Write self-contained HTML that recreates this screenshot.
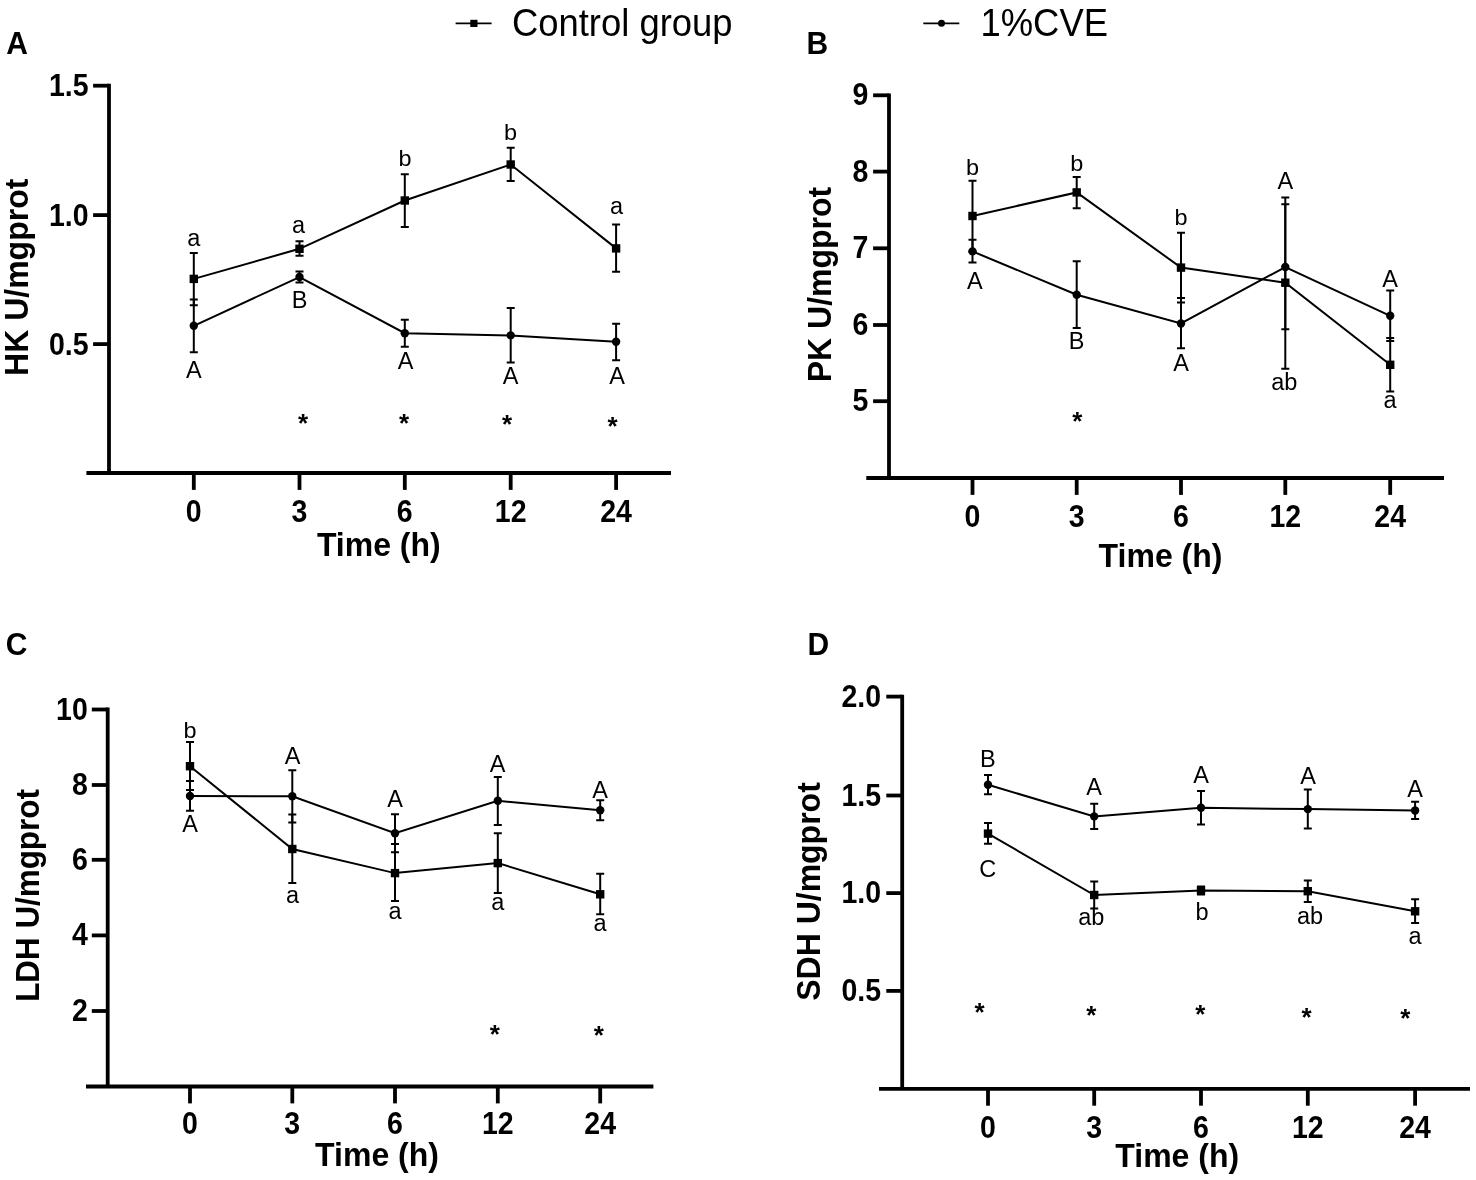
<!DOCTYPE html>
<html><head><meta charset="utf-8"><title>Chart</title><style>
html,body{margin:0;padding:0;background:#fff;}
svg{display:block;will-change:transform;}
text{font-family:"Liberation Sans",sans-serif;fill:#000;}
.tk{font-size:28.5px;font-weight:bold;}
.ax{font-size:32px;font-weight:bold;}
.pl{font-size:30px;font-weight:bold;}
.lb{font-size:23.5px;}
.as{font-size:26px;font-weight:bold;}
.lg{font-size:36.4px;}
</style></head><body>
<svg width="1476" height="1180" viewBox="0 0 1476 1180">
<rect width="1476" height="1180" fill="#fff"/>
<line x1="109" y1="83.8" x2="109" y2="473" stroke="#000" stroke-width="3.8"/>
<line x1="86.4" y1="473" x2="671" y2="473" stroke="#000" stroke-width="3.8"/>
<line x1="93.1" y1="85.7" x2="109" y2="85.7" stroke="#000" stroke-width="3.8"/>
<text transform="translate(88.5,96.10000000000001) scale(1,1.08)" class="tk" text-anchor="end">1.5</text>
<line x1="93.1" y1="215.1" x2="109" y2="215.1" stroke="#000" stroke-width="3.8"/>
<text transform="translate(88.5,225.5) scale(1,1.08)" class="tk" text-anchor="end">1.0</text>
<line x1="93.1" y1="344.1" x2="109" y2="344.1" stroke="#000" stroke-width="3.8"/>
<text transform="translate(88.5,354.5) scale(1,1.08)" class="tk" text-anchor="end">0.5</text>
<line x1="193.8" y1="473" x2="193.8" y2="489.9" stroke="#000" stroke-width="3.8"/>
<text transform="translate(193.8,522) scale(1,1.08)" class="tk" text-anchor="middle">0</text>
<line x1="299.5" y1="473" x2="299.5" y2="489.9" stroke="#000" stroke-width="3.8"/>
<text transform="translate(299.5,522) scale(1,1.08)" class="tk" text-anchor="middle">3</text>
<line x1="404.8" y1="473" x2="404.8" y2="489.9" stroke="#000" stroke-width="3.8"/>
<text transform="translate(404.8,522) scale(1,1.08)" class="tk" text-anchor="middle">6</text>
<line x1="510.7" y1="473" x2="510.7" y2="489.9" stroke="#000" stroke-width="3.8"/>
<text transform="translate(510.7,522) scale(1,1.08)" class="tk" text-anchor="middle">12</text>
<line x1="616.1" y1="473" x2="616.1" y2="489.9" stroke="#000" stroke-width="3.8"/>
<text transform="translate(616.1,522) scale(1,1.08)" class="tk" text-anchor="middle">24</text>
<text transform="translate(378.8,556) scale(1,1.03)" class="ax" text-anchor="middle">Time (h)</text>
<text transform="translate(28,277.3) rotate(-90) scale(1,1.03)" class="ax" text-anchor="middle" style="font-size:32px">HK U/mgprot</text>
<text transform="translate(6.3,53.5) scale(1,1.05)" class="pl">A</text>
<path d="M193.8 253.1V278.9M189.8 253.1H197.8" stroke="#000" stroke-width="2.0" fill="none"/>
<path d="M193.8 278.9V305.2M189.8 305.2H197.8" stroke="#000" stroke-width="2.0" fill="none"/>
<path d="M299.5 241.2V248.8M295.5 241.2H303.5" stroke="#000" stroke-width="2.0" fill="none"/>
<path d="M299.5 248.8V255.7M295.5 255.7H303.5" stroke="#000" stroke-width="2.0" fill="none"/>
<path d="M404.8 174.2V200.5M400.8 174.2H408.8" stroke="#000" stroke-width="2.0" fill="none"/>
<path d="M404.8 200.5V226.9M400.8 226.9H408.8" stroke="#000" stroke-width="2.0" fill="none"/>
<path d="M510.7 147.8V164.5M506.7 147.8H514.7" stroke="#000" stroke-width="2.0" fill="none"/>
<path d="M510.7 164.5V181.0M506.7 181.0H514.7" stroke="#000" stroke-width="2.0" fill="none"/>
<path d="M616.1 224.6V248.4M612.1 224.6H620.1" stroke="#000" stroke-width="2.0" fill="none"/>
<path d="M616.1 248.4V271.8M612.1 271.8H620.1" stroke="#000" stroke-width="2.0" fill="none"/>
<path d="M193.8 278.9 L299.5 248.8 L404.8 200.5 L510.7 164.5 L616.1 248.4" stroke="#000" stroke-width="2.0" fill="none" stroke-linejoin="miter"/>
<rect x="189.60000000000002" y="274.7" width="8.4" height="8.4" fill="#000"/>
<rect x="295.3" y="244.60000000000002" width="8.4" height="8.4" fill="#000"/>
<rect x="400.6" y="196.3" width="8.4" height="8.4" fill="#000"/>
<rect x="506.5" y="160.3" width="8.4" height="8.4" fill="#000"/>
<rect x="611.9" y="244.20000000000002" width="8.4" height="8.4" fill="#000"/>
<path d="M193.8 299.6V325.8M189.8 299.6H197.8" stroke="#000" stroke-width="2.0" fill="none"/>
<path d="M193.8 325.8V352.2M189.8 352.2H197.8" stroke="#000" stroke-width="2.0" fill="none"/>
<path d="M299.5 271.4V277.0M295.5 271.4H303.5" stroke="#000" stroke-width="2.0" fill="none"/>
<path d="M299.5 277.0V282.4M295.5 282.4H303.5" stroke="#000" stroke-width="2.0" fill="none"/>
<path d="M404.8 319.8V333.2M400.8 319.8H408.8" stroke="#000" stroke-width="2.0" fill="none"/>
<path d="M404.8 333.2V346.8M400.8 346.8H408.8" stroke="#000" stroke-width="2.0" fill="none"/>
<path d="M510.7 308.0V335.4M506.7 308.0H514.7" stroke="#000" stroke-width="2.0" fill="none"/>
<path d="M510.7 335.4V362.4M506.7 362.4H514.7" stroke="#000" stroke-width="2.0" fill="none"/>
<path d="M616.1 323.7V341.7M612.1 323.7H620.1" stroke="#000" stroke-width="2.0" fill="none"/>
<path d="M616.1 341.7V360.2M612.1 360.2H620.1" stroke="#000" stroke-width="2.0" fill="none"/>
<path d="M193.8 325.8 L299.5 277.0 L404.8 333.2 L510.7 335.4 L616.1 341.7" stroke="#000" stroke-width="2.0" fill="none" stroke-linejoin="miter"/>
<circle cx="193.8" cy="325.8" r="4.2" fill="#000"/>
<circle cx="299.5" cy="277.0" r="4.2" fill="#000"/>
<circle cx="404.8" cy="333.2" r="4.2" fill="#000"/>
<circle cx="510.7" cy="335.4" r="4.2" fill="#000"/>
<circle cx="616.1" cy="341.7" r="4.2" fill="#000"/>
<text x="193.8" y="245.5" class="lb" text-anchor="middle">a</text>
<text x="193.8" y="378" class="lb" text-anchor="middle">A</text>
<text x="298.6" y="232.5" class="lb" text-anchor="middle">a</text>
<text x="299.5" y="308.2" class="lb" text-anchor="middle">B</text>
<text transform="translate(405,165.8) scale(1,0.93)" class="lb" text-anchor="middle">b</text>
<text x="405.6" y="369" class="lb" text-anchor="middle">A</text>
<text transform="translate(510.5,140.3) scale(1,0.93)" class="lb" text-anchor="middle">b</text>
<text x="510.7" y="384.3" class="lb" text-anchor="middle">A</text>
<text x="616.5" y="213.5" class="lb" text-anchor="middle">a</text>
<text x="617" y="383.6" class="lb" text-anchor="middle">A</text>
<text x="303" y="431.9" class="as" text-anchor="middle">*</text>
<text x="404" y="431.9" class="as" text-anchor="middle">*</text>
<text x="507" y="432.79999999999995" class="as" text-anchor="middle">*</text>
<text x="612.5" y="434.5" class="as" text-anchor="middle">*</text>
<line x1="889" y1="93.39999999999999" x2="889" y2="478" stroke="#000" stroke-width="3.8"/>
<line x1="866.3" y1="478" x2="1444" y2="478" stroke="#000" stroke-width="3.8"/>
<line x1="873.1" y1="95.3" x2="889" y2="95.3" stroke="#000" stroke-width="3.8"/>
<text transform="translate(868.3,105.3) scale(1,1.08)" class="tk" text-anchor="end">9</text>
<line x1="873.1" y1="171.6" x2="889" y2="171.6" stroke="#000" stroke-width="3.8"/>
<text transform="translate(868.3,181.6) scale(1,1.08)" class="tk" text-anchor="end">8</text>
<line x1="873.1" y1="248.3" x2="889" y2="248.3" stroke="#000" stroke-width="3.8"/>
<text transform="translate(868.3,258.3) scale(1,1.08)" class="tk" text-anchor="end">7</text>
<line x1="873.1" y1="325" x2="889" y2="325" stroke="#000" stroke-width="3.8"/>
<text transform="translate(868.3,335) scale(1,1.08)" class="tk" text-anchor="end">6</text>
<line x1="873.1" y1="401.2" x2="889" y2="401.2" stroke="#000" stroke-width="3.8"/>
<text transform="translate(868.3,411.2) scale(1,1.08)" class="tk" text-anchor="end">5</text>
<line x1="972.5" y1="478" x2="972.5" y2="494.9" stroke="#000" stroke-width="3.8"/>
<text transform="translate(972.5,527) scale(1,1.08)" class="tk" text-anchor="middle">0</text>
<line x1="1076.7" y1="478" x2="1076.7" y2="494.9" stroke="#000" stroke-width="3.8"/>
<text transform="translate(1076.7,527) scale(1,1.08)" class="tk" text-anchor="middle">3</text>
<line x1="1181" y1="478" x2="1181" y2="494.9" stroke="#000" stroke-width="3.8"/>
<text transform="translate(1181,527) scale(1,1.08)" class="tk" text-anchor="middle">6</text>
<line x1="1285.3" y1="478" x2="1285.3" y2="494.9" stroke="#000" stroke-width="3.8"/>
<text transform="translate(1285.3,527) scale(1,1.08)" class="tk" text-anchor="middle">12</text>
<line x1="1390.2" y1="478" x2="1390.2" y2="494.9" stroke="#000" stroke-width="3.8"/>
<text transform="translate(1390.2,527) scale(1,1.08)" class="tk" text-anchor="middle">24</text>
<text transform="translate(1160.5,566.5) scale(1,1.03)" class="ax" text-anchor="middle">Time (h)</text>
<text transform="translate(831,284.5) rotate(-90) scale(1,1.03)" class="ax" text-anchor="middle" style="font-size:32px">PK U/mgprot</text>
<text transform="translate(806.5,53.5) scale(1,1.05)" class="pl">B</text>
<path d="M972.5 180.8V216.0M968.5 180.8H976.5" stroke="#000" stroke-width="2.0" fill="none"/>
<path d="M972.5 216.0V251.4M968.5 251.4H976.5" stroke="#000" stroke-width="2.0" fill="none"/>
<path d="M1076.7 177.0V192.4M1072.7 177.0H1080.7" stroke="#000" stroke-width="2.0" fill="none"/>
<path d="M1076.7 192.4V208.3M1072.7 208.3H1080.7" stroke="#000" stroke-width="2.0" fill="none"/>
<path d="M1181 232.8V267.6M1177.0 232.8H1185.0" stroke="#000" stroke-width="2.0" fill="none"/>
<path d="M1181 267.6V302.6M1177.0 302.6H1185.0" stroke="#000" stroke-width="2.0" fill="none"/>
<path d="M1285.3 197.5V282.7M1281.3 197.5H1289.3" stroke="#000" stroke-width="2.0" fill="none"/>
<path d="M1285.3 282.7V368.7M1281.3 368.7H1289.3" stroke="#000" stroke-width="2.0" fill="none"/>
<path d="M1390.2 338.1V364.8M1386.2 338.1H1394.2" stroke="#000" stroke-width="2.0" fill="none"/>
<path d="M1390.2 364.8V391.5M1386.2 391.5H1394.2" stroke="#000" stroke-width="2.0" fill="none"/>
<path d="M972.5 216.0 L1076.7 192.4 L1181 267.6 L1285.3 282.7 L1390.2 364.8" stroke="#000" stroke-width="2.0" fill="none" stroke-linejoin="miter"/>
<rect x="968.3" y="211.8" width="8.4" height="8.4" fill="#000"/>
<rect x="1072.5" y="188.20000000000002" width="8.4" height="8.4" fill="#000"/>
<rect x="1176.8" y="263.40000000000003" width="8.4" height="8.4" fill="#000"/>
<rect x="1281.1" y="278.5" width="8.4" height="8.4" fill="#000"/>
<rect x="1386.0" y="360.6" width="8.4" height="8.4" fill="#000"/>
<path d="M972.5 239.7V251.4M968.5 239.7H976.5" stroke="#000" stroke-width="2.0" fill="none"/>
<path d="M972.5 251.4V262.5M968.5 262.5H976.5" stroke="#000" stroke-width="2.0" fill="none"/>
<path d="M1076.7 261.2V294.7M1072.7 261.2H1080.7" stroke="#000" stroke-width="2.0" fill="none"/>
<path d="M1076.7 294.7V328.0M1072.7 328.0H1080.7" stroke="#000" stroke-width="2.0" fill="none"/>
<path d="M1181 298.0V323.5M1177.0 298.0H1185.0" stroke="#000" stroke-width="2.0" fill="none"/>
<path d="M1181 323.5V348.3M1177.0 348.3H1185.0" stroke="#000" stroke-width="2.0" fill="none"/>
<path d="M1285.3 204.2V267.0M1281.3 204.2H1289.3" stroke="#000" stroke-width="2.0" fill="none"/>
<path d="M1285.3 267.0V329.3M1281.3 329.3H1289.3" stroke="#000" stroke-width="2.0" fill="none"/>
<path d="M1390.2 290.6V315.8M1386.2 290.6H1394.2" stroke="#000" stroke-width="2.0" fill="none"/>
<path d="M1390.2 315.8V341.0M1386.2 341.0H1394.2" stroke="#000" stroke-width="2.0" fill="none"/>
<path d="M972.5 251.4 L1076.7 294.7 L1181 323.5 L1285.3 267.0 L1390.2 315.8" stroke="#000" stroke-width="2.0" fill="none" stroke-linejoin="miter"/>
<circle cx="972.5" cy="251.4" r="4.2" fill="#000"/>
<circle cx="1076.7" cy="294.7" r="4.2" fill="#000"/>
<circle cx="1181" cy="323.5" r="4.2" fill="#000"/>
<circle cx="1285.3" cy="267.0" r="4.2" fill="#000"/>
<circle cx="1390.2" cy="315.8" r="4.2" fill="#000"/>
<text transform="translate(972.5,175.3) scale(1,0.93)" class="lb" text-anchor="middle">b</text>
<text x="974.9" y="288.5" class="lb" text-anchor="middle">A</text>
<text transform="translate(1076.7,170.9) scale(1,0.93)" class="lb" text-anchor="middle">b</text>
<text x="1076.7" y="349.2" class="lb" text-anchor="middle">B</text>
<text transform="translate(1181,224.9) scale(1,0.93)" class="lb" text-anchor="middle">b</text>
<text x="1181" y="370.5" class="lb" text-anchor="middle">A</text>
<text x="1285.4" y="189.2" class="lb" text-anchor="middle">A</text>
<text x="1284.2" y="390" class="lb" text-anchor="middle">ab</text>
<text x="1390.2" y="287" class="lb" text-anchor="middle">A</text>
<text x="1390" y="407.8" class="lb" text-anchor="middle">a</text>
<text x="1077.3" y="429.5" class="as" text-anchor="middle">*</text>
<line x1="107.7" y1="707.6" x2="107.7" y2="1086.5" stroke="#000" stroke-width="3.8"/>
<line x1="86" y1="1086.5" x2="653.4" y2="1086.5" stroke="#000" stroke-width="3.8"/>
<line x1="91.8" y1="709.5" x2="107.7" y2="709.5" stroke="#000" stroke-width="3.8"/>
<text transform="translate(87.8,719.5) scale(1,1.08)" class="tk" text-anchor="end">10</text>
<line x1="91.8" y1="785" x2="107.7" y2="785" stroke="#000" stroke-width="3.8"/>
<text transform="translate(87.8,795) scale(1,1.08)" class="tk" text-anchor="end">8</text>
<line x1="91.8" y1="859.8" x2="107.7" y2="859.8" stroke="#000" stroke-width="3.8"/>
<text transform="translate(87.8,869.8) scale(1,1.08)" class="tk" text-anchor="end">6</text>
<line x1="91.8" y1="935.4" x2="107.7" y2="935.4" stroke="#000" stroke-width="3.8"/>
<text transform="translate(87.8,945.4) scale(1,1.08)" class="tk" text-anchor="end">4</text>
<line x1="91.8" y1="1011" x2="107.7" y2="1011" stroke="#000" stroke-width="3.8"/>
<text transform="translate(87.8,1021) scale(1,1.08)" class="tk" text-anchor="end">2</text>
<line x1="190" y1="1086.5" x2="190" y2="1103.4" stroke="#000" stroke-width="3.8"/>
<text transform="translate(190,1134.0) scale(1,1.08)" class="tk" text-anchor="middle">0</text>
<line x1="292.3" y1="1086.5" x2="292.3" y2="1103.4" stroke="#000" stroke-width="3.8"/>
<text transform="translate(292.3,1134.0) scale(1,1.08)" class="tk" text-anchor="middle">3</text>
<line x1="395" y1="1086.5" x2="395" y2="1103.4" stroke="#000" stroke-width="3.8"/>
<text transform="translate(395,1134.0) scale(1,1.08)" class="tk" text-anchor="middle">6</text>
<line x1="497.8" y1="1086.5" x2="497.8" y2="1103.4" stroke="#000" stroke-width="3.8"/>
<text transform="translate(497.8,1134.0) scale(1,1.08)" class="tk" text-anchor="middle">12</text>
<line x1="600.2" y1="1086.5" x2="600.2" y2="1103.4" stroke="#000" stroke-width="3.8"/>
<text transform="translate(600.2,1134.0) scale(1,1.08)" class="tk" text-anchor="middle">24</text>
<text transform="translate(377,1165.5) scale(1,1.03)" class="ax" text-anchor="middle">Time (h)</text>
<text transform="translate(38.5,895.5) rotate(-90) scale(1,1.03)" class="ax" text-anchor="middle" style="font-size:31.4px">LDH U/mgprot</text>
<text transform="translate(5.8,654.7) scale(1,1.05)" class="pl">C</text>
<path d="M190 742.0V766.2M186.0 742.0H194.0" stroke="#000" stroke-width="2.0" fill="none"/>
<path d="M190 766.2V790.0M186.0 790.0H194.0" stroke="#000" stroke-width="2.0" fill="none"/>
<path d="M292.3 814.4V849.0M288.3 814.4H296.3" stroke="#000" stroke-width="2.0" fill="none"/>
<path d="M292.3 849.0V883.0M288.3 883.0H296.3" stroke="#000" stroke-width="2.0" fill="none"/>
<path d="M395 844.1V873.1M391.0 844.1H399.0" stroke="#000" stroke-width="2.0" fill="none"/>
<path d="M395 873.1V901.0M391.0 901.0H399.0" stroke="#000" stroke-width="2.0" fill="none"/>
<path d="M497.8 833.3V863.1M493.8 833.3H501.8" stroke="#000" stroke-width="2.0" fill="none"/>
<path d="M497.8 863.1V892.9M493.8 892.9H501.8" stroke="#000" stroke-width="2.0" fill="none"/>
<path d="M600.2 873.7V894.3M596.2 873.7H604.2" stroke="#000" stroke-width="2.0" fill="none"/>
<path d="M600.2 894.3V914.3M596.2 914.3H604.2" stroke="#000" stroke-width="2.0" fill="none"/>
<path d="M190 766.2 L292.3 849.0 L395 873.1 L497.8 863.1 L600.2 894.3" stroke="#000" stroke-width="2.0" fill="none" stroke-linejoin="miter"/>
<rect x="185.8" y="762.0" width="8.4" height="8.4" fill="#000"/>
<rect x="288.1" y="844.8" width="8.4" height="8.4" fill="#000"/>
<rect x="390.8" y="868.9" width="8.4" height="8.4" fill="#000"/>
<rect x="493.6" y="858.9" width="8.4" height="8.4" fill="#000"/>
<rect x="596.0" y="890.0999999999999" width="8.4" height="8.4" fill="#000"/>
<path d="M190 781.0V796.0M186.0 781.0H194.0" stroke="#000" stroke-width="2.0" fill="none"/>
<path d="M190 796.0V810.7M186.0 810.7H194.0" stroke="#000" stroke-width="2.0" fill="none"/>
<path d="M292.3 770.3V796.2M288.3 770.3H296.3" stroke="#000" stroke-width="2.0" fill="none"/>
<path d="M292.3 796.2V822.5M288.3 822.5H296.3" stroke="#000" stroke-width="2.0" fill="none"/>
<path d="M395 814.3V833.3M391.0 814.3H399.0" stroke="#000" stroke-width="2.0" fill="none"/>
<path d="M395 833.3V852.2M391.0 852.2H399.0" stroke="#000" stroke-width="2.0" fill="none"/>
<path d="M497.8 776.9V800.8M493.8 776.9H501.8" stroke="#000" stroke-width="2.0" fill="none"/>
<path d="M497.8 800.8V824.9M493.8 824.9H501.8" stroke="#000" stroke-width="2.0" fill="none"/>
<path d="M600.2 800.2V810.2M596.2 800.2H604.2" stroke="#000" stroke-width="2.0" fill="none"/>
<path d="M600.2 810.2V820.3M596.2 820.3H604.2" stroke="#000" stroke-width="2.0" fill="none"/>
<path d="M190 796.0 L292.3 796.2 L395 833.3 L497.8 800.8 L600.2 810.2" stroke="#000" stroke-width="2.0" fill="none" stroke-linejoin="miter"/>
<circle cx="190" cy="796.0" r="4.2" fill="#000"/>
<circle cx="292.3" cy="796.2" r="4.2" fill="#000"/>
<circle cx="395" cy="833.3" r="4.2" fill="#000"/>
<circle cx="497.8" cy="800.8" r="4.2" fill="#000"/>
<circle cx="600.2" cy="810.2" r="4.2" fill="#000"/>
<text transform="translate(190,737.5) scale(1,0.93)" class="lb" text-anchor="middle">b</text>
<text x="190" y="832" class="lb" text-anchor="middle">A</text>
<text x="292.5" y="763.6" class="lb" text-anchor="middle">A</text>
<text x="292.5" y="902.7" class="lb" text-anchor="middle">a</text>
<text x="395" y="807.2" class="lb" text-anchor="middle">A</text>
<text x="395" y="919" class="lb" text-anchor="middle">a</text>
<text x="497.7" y="771.7" class="lb" text-anchor="middle">A</text>
<text x="497.7" y="910.3" class="lb" text-anchor="middle">a</text>
<text x="600.1" y="797.5" class="lb" text-anchor="middle">A</text>
<text x="600.1" y="931.2" class="lb" text-anchor="middle">a</text>
<text x="494.9" y="1042.5" class="as" text-anchor="middle">*</text>
<text x="598.7" y="1043.8000000000002" class="as" text-anchor="middle">*</text>
<line x1="902.2" y1="694.7" x2="902.2" y2="1088.8" stroke="#000" stroke-width="3.8"/>
<line x1="879" y1="1088.8" x2="1470" y2="1088.8" stroke="#000" stroke-width="3.8"/>
<line x1="886.3000000000001" y1="696.6" x2="902.2" y2="696.6" stroke="#000" stroke-width="3.8"/>
<text transform="translate(881,706.6) scale(1,1.08)" class="tk" text-anchor="end">2.0</text>
<line x1="886.3000000000001" y1="795.5" x2="902.2" y2="795.5" stroke="#000" stroke-width="3.8"/>
<text transform="translate(881,805.5) scale(1,1.08)" class="tk" text-anchor="end">1.5</text>
<line x1="886.3000000000001" y1="893.1" x2="902.2" y2="893.1" stroke="#000" stroke-width="3.8"/>
<text transform="translate(881,903.1) scale(1,1.08)" class="tk" text-anchor="end">1.0</text>
<line x1="886.3000000000001" y1="990.9" x2="902.2" y2="990.9" stroke="#000" stroke-width="3.8"/>
<text transform="translate(881,1000.9) scale(1,1.08)" class="tk" text-anchor="end">0.5</text>
<line x1="988" y1="1088.8" x2="988" y2="1105.7" stroke="#000" stroke-width="3.8"/>
<text transform="translate(988,1137.8) scale(1,1.08)" class="tk" text-anchor="middle">0</text>
<line x1="1094.2" y1="1088.8" x2="1094.2" y2="1105.7" stroke="#000" stroke-width="3.8"/>
<text transform="translate(1094.2,1137.8) scale(1,1.08)" class="tk" text-anchor="middle">3</text>
<line x1="1201" y1="1088.8" x2="1201" y2="1105.7" stroke="#000" stroke-width="3.8"/>
<text transform="translate(1201,1137.8) scale(1,1.08)" class="tk" text-anchor="middle">6</text>
<line x1="1307.8" y1="1088.8" x2="1307.8" y2="1105.7" stroke="#000" stroke-width="3.8"/>
<text transform="translate(1307.8,1137.8) scale(1,1.08)" class="tk" text-anchor="middle">12</text>
<line x1="1415.1" y1="1088.8" x2="1415.1" y2="1105.7" stroke="#000" stroke-width="3.8"/>
<text transform="translate(1415.1,1137.8) scale(1,1.08)" class="tk" text-anchor="middle">24</text>
<text transform="translate(1177.2,1166.5) scale(1,1.03)" class="ax" text-anchor="middle">Time (h)</text>
<text transform="translate(820,891.5) rotate(-90) scale(1,1.03)" class="ax" text-anchor="middle" style="font-size:32px">SDH U/mgprot</text>
<text transform="translate(807.5,654.5) scale(1,1.05)" class="pl">D</text>
<path d="M988 822.9V833.6M984.0 822.9H992.0" stroke="#000" stroke-width="2.0" fill="none"/>
<path d="M988 833.6V843.7M984.0 843.7H992.0" stroke="#000" stroke-width="2.0" fill="none"/>
<path d="M1094.2 881.5V895.0M1090.2 881.5H1098.2" stroke="#000" stroke-width="2.0" fill="none"/>
<path d="M1094.2 895.0V908.5M1090.2 908.5H1098.2" stroke="#000" stroke-width="2.0" fill="none"/>
<path d="M1201 886.4V890.4M1197.0 886.4H1205.0" stroke="#000" stroke-width="2.0" fill="none"/>
<path d="M1201 890.4V894.4M1197.0 894.4H1205.0" stroke="#000" stroke-width="2.0" fill="none"/>
<path d="M1307.8 880.4V891.2M1303.8 880.4H1311.8" stroke="#000" stroke-width="2.0" fill="none"/>
<path d="M1307.8 891.2V902.1M1303.8 902.1H1311.8" stroke="#000" stroke-width="2.0" fill="none"/>
<path d="M1415.1 899.3V911.3M1411.1 899.3H1419.1" stroke="#000" stroke-width="2.0" fill="none"/>
<path d="M1415.1 911.3V922.9M1411.1 922.9H1419.1" stroke="#000" stroke-width="2.0" fill="none"/>
<path d="M988 833.6 L1094.2 895.0 L1201 890.4 L1307.8 891.2 L1415.1 911.3" stroke="#000" stroke-width="2.0" fill="none" stroke-linejoin="miter"/>
<rect x="983.8" y="829.4" width="8.4" height="8.4" fill="#000"/>
<rect x="1090.0" y="890.8" width="8.4" height="8.4" fill="#000"/>
<rect x="1196.8" y="886.1999999999999" width="8.4" height="8.4" fill="#000"/>
<rect x="1303.6" y="887.0" width="8.4" height="8.4" fill="#000"/>
<rect x="1410.8999999999999" y="907.0999999999999" width="8.4" height="8.4" fill="#000"/>
<path d="M988 775.1V784.8M984.0 775.1H992.0" stroke="#000" stroke-width="2.0" fill="none"/>
<path d="M988 784.8V794.2M984.0 794.2H992.0" stroke="#000" stroke-width="2.0" fill="none"/>
<path d="M1094.2 803.7V816.4M1090.2 803.7H1098.2" stroke="#000" stroke-width="2.0" fill="none"/>
<path d="M1094.2 816.4V828.9M1090.2 828.9H1098.2" stroke="#000" stroke-width="2.0" fill="none"/>
<path d="M1201 791.0V807.8M1197.0 791.0H1205.0" stroke="#000" stroke-width="2.0" fill="none"/>
<path d="M1201 807.8V824.6M1197.0 824.6H1205.0" stroke="#000" stroke-width="2.0" fill="none"/>
<path d="M1307.8 789.6V809.1M1303.8 789.6H1311.8" stroke="#000" stroke-width="2.0" fill="none"/>
<path d="M1307.8 809.1V828.6M1303.8 828.6H1311.8" stroke="#000" stroke-width="2.0" fill="none"/>
<path d="M1415.1 801.8V810.5M1411.1 801.8H1419.1" stroke="#000" stroke-width="2.0" fill="none"/>
<path d="M1415.1 810.5V819.1M1411.1 819.1H1419.1" stroke="#000" stroke-width="2.0" fill="none"/>
<path d="M988 784.8 L1094.2 816.4 L1201 807.8 L1307.8 809.1 L1415.1 810.5" stroke="#000" stroke-width="2.0" fill="none" stroke-linejoin="miter"/>
<circle cx="988" cy="784.8" r="4.2" fill="#000"/>
<circle cx="1094.2" cy="816.4" r="4.2" fill="#000"/>
<circle cx="1201" cy="807.8" r="4.2" fill="#000"/>
<circle cx="1307.8" cy="809.1" r="4.2" fill="#000"/>
<circle cx="1415.1" cy="810.5" r="4.2" fill="#000"/>
<text x="987.8" y="767.2" class="lb" text-anchor="middle">B</text>
<text x="987.8" y="876.5" class="lb" text-anchor="middle">C</text>
<text x="1094.2" y="795.3" class="lb" text-anchor="middle">A</text>
<text x="1091.3" y="925.3" class="lb" text-anchor="middle">ab</text>
<text x="1201" y="783.1" class="lb" text-anchor="middle">A</text>
<text x="1202" y="920" class="lb" text-anchor="middle">b </text>
<text x="1308" y="783.6" class="lb" text-anchor="middle">A</text>
<text x="1310" y="924" class="lb" text-anchor="middle">ab</text>
<text x="1415" y="797.2" class="lb" text-anchor="middle">A</text>
<text x="1415" y="943.6" class="lb" text-anchor="middle">a</text>
<text x="979.6" y="1021.1999999999999" class="as" text-anchor="middle">*</text>
<text x="1091.4" y="1023.5" class="as" text-anchor="middle">*</text>
<text x="1200.2" y="1023.4" class="as" text-anchor="middle">*</text>
<text x="1306.5" y="1025.9" class="as" text-anchor="middle">*</text>
<text x="1405.4" y="1027.2" class="as" text-anchor="middle">*</text>
<line x1="455.6" y1="23.4" x2="491.6" y2="23.4" stroke="#000" stroke-width="1.7"/>
<rect x="470.3" y="19.8" width="7.2" height="7.2" fill="#000"/>
<text transform="translate(512,36.2) scale(1,1.06)" class="lg">Control group</text>
<line x1="923.3" y1="23.4" x2="959.3" y2="23.4" stroke="#000" stroke-width="1.7"/>
<circle cx="941.5" cy="23.3" r="3.5" fill="#000"/>
<text transform="translate(980.5,36.2) scale(1,1.06)" class="lg">1%CVE</text>
</svg>
</body></html>
